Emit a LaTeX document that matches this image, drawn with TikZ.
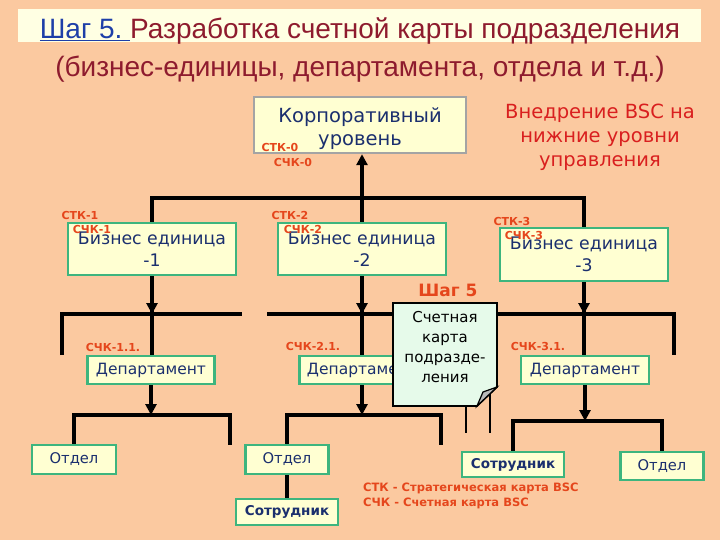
\documentclass[tikz,border=0pt]{standalone}
\usepackage{fontspec}
\setmainfont{DejaVu Sans}
\newfontfamily\titlefont{Liberation Sans}
\usepackage{tikz}
\usetikzlibrary{arrows.meta}
\definecolor{peach}{HTML}{FBC9A0}
\definecolor{band}{HTML}{FFFFE3}
\definecolor{titlered}{HTML}{8E1B2E}
\definecolor{titleblue}{HTML}{1E3FA8}
\definecolor{boxfill}{HTML}{FFFFD2}
\definecolor{boxline}{HTML}{3DB57E}
\definecolor{boxgray}{HTML}{A4A4A4}
\definecolor{navy}{HTML}{1B2F6E}
\definecolor{codered}{HTML}{E5461C}
\definecolor{hintred}{HTML}{D91F1F}
\definecolor{notefill}{HTML}{E6FAEA}

\tikzset{
  unitbox/.style={draw=boxline,line width=2.4pt,fill=boxfill,text=navy,inner sep=0pt,align=center},
  conn/.style={line width=3.3pt},
  thinconn/.style={line width=2.4pt},
  downtip/.style={-{Triangle[width=11pt,length=11pt]}},
  cardcode/.style={text=codered,inner sep=0pt,font=\bfseries\fontsize{11}{11}\selectfont},
}

\begin{document}
\begin{tikzpicture}[x=1pt,y=-1pt]
  \useasboundingbox (0,0) rectangle (720,540);
  \fill[peach] (0,0) rectangle (720,540);
  \fill[band] (18,9) rectangle (701,42);
  % title
  \node[anchor=base,inner sep=0pt,text=titlered,font=\titlefont\fontsize{28}{28}\selectfont] (title1) at (360,39)
    {\textcolor{titleblue}{\underline{Шаг 5.\ }}Разработка счетной карты подразделения};
  \node[anchor=base,inner sep=0pt,text=titlered,font=\titlefont\fontsize{28}{28}\selectfont] (title2) at (360,77)
    {(бизнес-единицы, департамента, отдела и т.д.)};

  % boxes
  \node[unitbox,draw=boxgray,minimum width=212pt,minimum height=56pt,
    label={[text=navy,align=center,yshift=-4pt,font=\fontsize{19.5}{23}\selectfont]center:Корпоративный\\уровень}] (corp) at (360,125) {};
  \node[text=hintred,align=center,font=\fontsize{19.5}{24}\selectfont] (hint) at (600,137) {Внедрение BSC на\\нижние уровни\\управления};

  \node[unitbox,minimum width=168pt,minimum height=52pt,font=\fontsize{17.3}{22}\selectfont] (bu1) at (152,249) {Бизнес единица\\-1};
  \node[unitbox,minimum width=168pt,minimum height=52pt,font=\fontsize{17.3}{22}\selectfont] (bu2) at (362,249) {Бизнес единица\\-2};
  \node[unitbox,minimum width=168pt,minimum height=53pt,font=\fontsize{17.3}{22}\selectfont] (bu3) at (584,254.5) {Бизнес единица\\-3};

  \node[unitbox,minimum width=127pt,minimum height=28pt,font=\fontsize{15.5}{18}\selectfont] (d1) at (151,370) {Департамент};
  \node[unitbox,minimum width=125pt,minimum height=28pt,font=\fontsize{15.5}{18}\selectfont] (d2) at (362,370) {Департамент};
  \node[unitbox,minimum width=128pt,minimum height=28pt,font=\fontsize{15.5}{18}\selectfont] (d3) at (585,370) {Департамент};

  \node[unitbox,minimum width=84pt,minimum height=29pt,font=\fontsize{14.7}{18}\selectfont] (o1) at (74,459.5) {Отдел};
  \node[unitbox,minimum width=83pt,minimum height=29pt,font=\fontsize{14.7}{18}\selectfont] (o2) at (287,459.5) {Отдел};
  \node[unitbox,minimum width=83pt,minimum height=28pt,font=\fontsize{14.7}{18}\selectfont] (o3) at (662,466) {Отдел};
  \node[unitbox,minimum width=102pt,minimum height=26pt,font=\bfseries\fontsize{13.5}{16}\selectfont] (s2) at (287,512) {Сотрудник};
  \node[unitbox,minimum width=102pt,minimum height=25pt,font=\bfseries\fontsize{13.5}{16}\selectfont] (s3) at (513,464.5) {Сотрудник};

  % free ends of the connectors
  \coordinate (top) at (0,198);
  \coordinate (mid) at (0,314);
  \coordinate (m1l) at (62,355);
  \coordinate (m1r) at (242,314);
  \coordinate (m2l) at (267,314);
  \coordinate (m2r) at (674,355);
  \coordinate (h1) at (0,415);
  \coordinate (h2) at (0,415);
  \coordinate (h3) at (0,421);
  \coordinate (f1) at (230,445);
  \coordinate (f2) at (441,445);
  \coordinate (t1) at (466,433);
  \coordinate (t2) at (490,433);

  % connectors
  \draw[conn] (bu1.north) |- (bu3.north |- top) -- (bu3.north);
  \draw[conn,downtip] (bu2.north) -- (bu2.north |- corp.south);

  \draw[conn] (m1l) |- (m1r);
  \draw[conn] (m2l) -| (m2r);
  \draw[thinconn] (t1 |- mid) -- (t1);
  \draw[thinconn] (t2 |- mid) -- (t2);
  \foreach \b/\d in {bu1/d1,bu2/d2,bu3/d3} {
    \draw[conn] (\b.south) -- (\b.south |- \d.north);
    \draw[conn,downtip] (\b.south) -- (\b.south |- mid);
  }

  \draw[conn,downtip] (d1.south) -- (d1.south |- h1);
  \draw[conn] (o1.north) |- (f1 |- h1) -- (f1);
  \draw[conn,downtip] (d2.south) -- (d2.south |- h2);
  \draw[conn] (o2.north) |- (f2 |- h2) -- (f2);
  \draw[conn] (o2.south) -- (s2.north);
  \draw[conn,downtip] (d3.south) -- (d3.south |- h3);
  \draw[conn] (s3.north) |- (o3.north |- h3) -- (o3.north);

  % card codes
  \node[cardcode] (stk0) at (280,147) {СТК-0};
  \node[cardcode] (sck0) at (293,162) {СЧК-0};
  \node[cardcode] (stk1) at (80,215) {СТК-1};
  \node[cardcode] (sck1) at (92,229) {СЧК-1};
  \node[cardcode] (stk2) at (290,215) {СТК-2};
  \node[cardcode] (sck2) at (303,229) {СЧК-2};
  \node[cardcode] (stk3) at (512,221) {СТК-3};
  \node[cardcode] (sck3) at (524,235) {СЧК-3};
  \node[cardcode] (sck11) at (113,347) {СЧК-1.1.};
  \node[cardcode] (sck21) at (313,346) {СЧК-2.1.};
  \node[cardcode] (sck31) at (538,346) {СЧК-3.1.};
  \node[cardcode,font=\bfseries\fontsize{17}{17}\selectfont] (step) at (448,290) {Шаг 5};
  \node[cardcode,anchor=west,font=\bfseries\fontsize{11.5}{15}\selectfont,align=left] (legend) at (363,495.5)
    {СТК - Стратегическая карта BSC\\СЧК - Счетная карта BSC};

  % note
  \filldraw[fill=notefill,line width=1.8pt] (393,303) -- (497,303) -- (497,387) -- (477,406) -- (393,406) -- cycle;
  \filldraw[fill=gray!55,line width=1.2pt] (497,387) -- (477,406) -- (483,392) -- cycle;
  \node[font=\fontsize{15}{20}\selectfont,align=center] (note) at (445,347.5) {Счетная\\карта\\подразде-\\ления};
\end{tikzpicture}
\end{document}
